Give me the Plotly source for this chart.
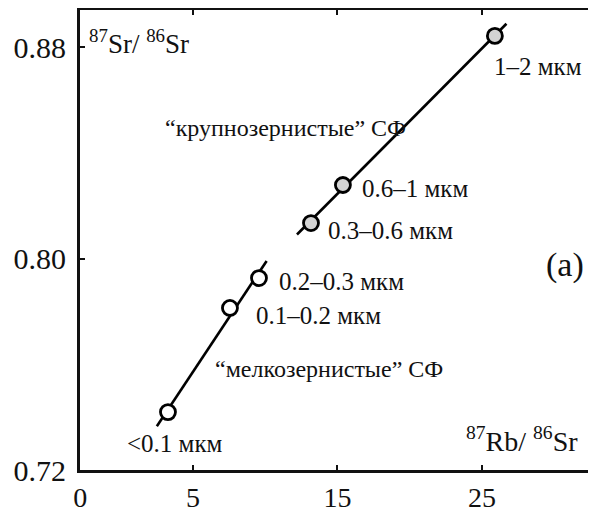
import numpy as np
import plotly.graph_objects as go

# ---- data ----
fraction_labels = ["<0.1 мкм", "0.1–0.2 мкм", "0.2–0.3 мкм", "0.3–0.6 мкм", "0.6–1 мкм", "1–2 мкм"]
rb_sr = [3.27, 7.56, 9.57, 13.17, 15.38, 25.90]
sr_sr = [0.7419, 0.7813, 0.7926, 0.8134, 0.8278, 0.8842]
fine_idx = [0, 1, 2]      # "мелкозернистые" СФ
coarse_idx = [3, 4, 5]    # "крупнозернистые" СФ
fine_line_x = [2.5, 10.1]
coarse_line_x = [12.2, 26.7]
x_tick_vals = [5, 15, 25]
y_tick_vals = [0.72, 0.80, 0.88]
x_range = [-2.82, 32.9]
y_range = [0.72, 0.894]

FONT = "Liberation Serif, Times New Roman, serif"
OFF = 8                      # default body margin of the html page
W, H = 596 - OFF, 513 - OFF
ML, MR, MT, MB = 80 - OFF, 0, 10 - OFF, 513 - 470
PW, PH = W - ML - MR, H - MT - MB


def px(x):   # page pixel -> paper
    return (x - OFF - ML) / PW


def py(y):
    return (H - MB - (y - OFF)) / PH


fig = go.Figure()

for idx, xr in ((fine_idx, fine_line_x), (coarse_idx, coarse_line_x)):
    xs = np.array([rb_sr[i] for i in idx])
    ys = np.array([sr_sr[i] for i in idx])
    k, b = np.polyfit(xs, ys, 1)
    lx = np.array(xr)
    fig.add_trace(go.Scatter(x=lx, y=k * lx + b, mode="lines",
                             line=dict(color="black", width=2.6),
                             hoverinfo="skip", showlegend=False))

fig.add_trace(go.Scatter(x=[rb_sr[i] for i in fine_idx], y=[sr_sr[i] for i in fine_idx],
                         mode="markers", showlegend=False,
                         marker=dict(size=15, color="white", line=dict(color="black", width=2.8))))
fig.add_trace(go.Scatter(x=[rb_sr[i] for i in coarse_idx], y=[sr_sr[i] for i in coarse_idx],
                         mode="markers", showlegend=False,
                         marker=dict(size=15, color="#d4d4d4", line=dict(color="black", width=2.8))))

lab_pos = [(125, 443), (254, 316), (277, 282), (326, 230), (360, 188), (492, 67)]
annotations = []
for t, (x0, y0) in zip(fraction_labels, lab_pos):
    annotations.append(dict(text=t, x=px(x0), y=py(y0), xanchor="left", yanchor="middle",
                            font=dict(size=25, color="#111", family=FONT)))
annotations += [
    dict(text="<sup>87</sup>Sr/ <sup>86</sup>Sr", x=px(87), y=py(42), xanchor="left", yanchor="middle",
         font=dict(size=27, color="#111", family=FONT)),
    dict(text="<sup>87</sup>Rb/ <sup>86</sup>Sr", x=px(464), y=py(439), xanchor="left", yanchor="middle",
         font=dict(size=28, color="#111", family=FONT)),
    dict(text="“крупнозернистые” СФ", x=px(163), y=py(128), xanchor="left", yanchor="middle",
         font=dict(size=24, color="#111", family=FONT)),
    dict(text="“мелкозернистые” СФ", x=px(213), y=py(369), xanchor="left", yanchor="middle",
         font=dict(size=24, color="#111", family=FONT)),
    dict(text="(a)", x=px(544), y=py(265), xanchor="left", yanchor="middle",
         font=dict(size=34, color="#111", family=FONT)),
]
for a in annotations:
    a["xref"] = "paper"
    a["yref"] = "paper"
    a["showarrow"] = False

fig.update_layout(
    width=W, height=H,
    margin=dict(l=ML, r=MR, t=MT, b=MB, pad=0, autoexpand=False),
    paper_bgcolor="white", plot_bgcolor="white",
    font=dict(family=FONT, color="#111"),
    annotations=annotations,
    xaxis=dict(range=x_range, tickvals=[x_range[0] + 0.02] + x_tick_vals,
               ticktext=["0"] + [str(v) for v in x_tick_vals],
               ticks="inside", ticklen=5, tickwidth=1.5, tickcolor="#111",
               showline=True, linecolor="#111", linewidth=3, mirror="ticks",
               showgrid=False, zeroline=False, tickfont=dict(size=28, family=FONT)),
    yaxis=dict(range=y_range, tickvals=y_tick_vals, ticktext=["0.72", "0.80", "0.88"],
               ticks="inside", ticklen=5, tickwidth=1.5, tickcolor="#111",
               showline=True, linecolor="#111", linewidth=3, mirror=False,
               ticklabelstandoff=5,
               showgrid=False, zeroline=False, tickfont=dict(size=30, family=FONT)),
)

fig.write_html("out.html")
